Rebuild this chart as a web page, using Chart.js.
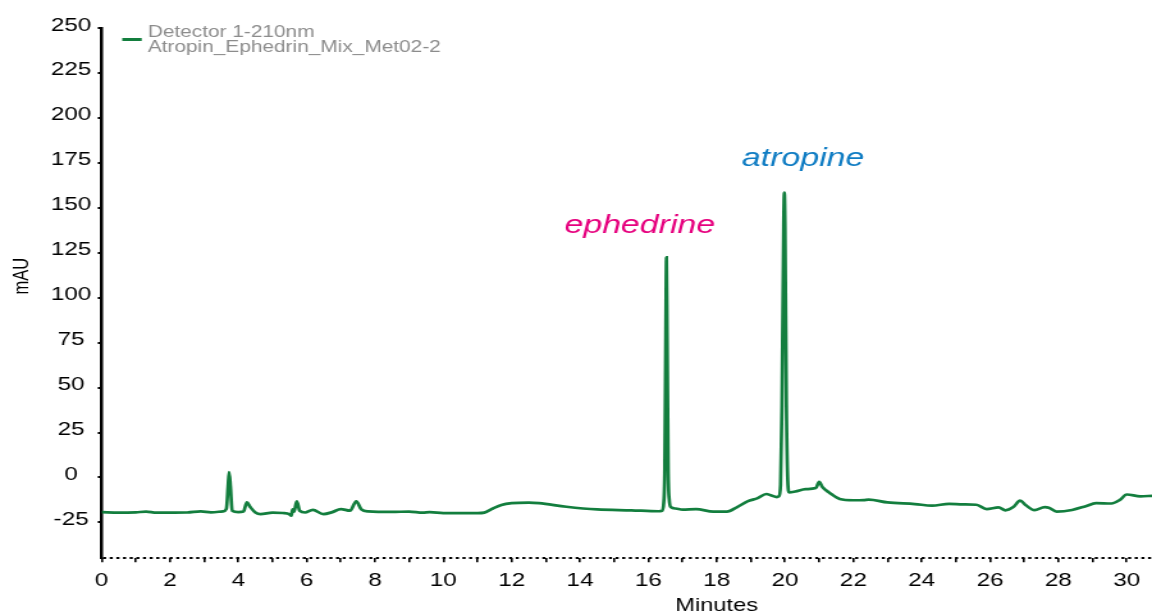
<!DOCTYPE html>
<html>
<head>
<meta charset="utf-8">
<title>Atropin / Ephedrin chromatogram</title>
<script src="https://cdn.jsdelivr.net/npm/chart.js@4.4.1/dist/chart.umd.min.js"></script>
<style>
  html, body { margin: 0; padding: 0; background: #fff; overflow: hidden; }
</style>
</head>
<body>
<!-- the original export is stretched sideways, so the canvas is drawn narrow and shown wide -->
<canvas id="chromatogram" width="900" height="613" style="display:block;width:1152px;height:613px"></canvas>
<script>
// retention time (min) and detector signal (mAU)
var minutes = [
  0, 0.5, 1.0, 1.3, 1.6, 2.5, 2.9, 3.2, 3.55, 3.65, 3.70, 3.73, 3.77, 3.82,
  4.0, 4.15, 4.25, 4.35, 4.5, 4.65, 5.0, 5.3, 5.5, 5.55, 5.59, 5.63, 5.71, 5.80, 5.95,
  6.18, 6.49, 6.75, 7.0, 7.27, 7.45, 7.6, 7.8, 8.5, 9.0, 9.4, 9.6, 10.0,
  11.0, 11.2, 11.45, 11.7, 12.0, 12.5, 12.8, 13.6, 14.5, 15.5, 16.3,
  16.40, 16.45, 16.48, 16.51, 16.53, 16.55, 16.58, 16.61, 16.66,
  16.8, 17.0, 17.4, 17.9, 18.3, 18.6, 18.9, 19.2, 19.45, 19.6, 19.76,
  19.82, 19.87, 19.91, 19.96, 19.98, 20.00, 20.04, 20.08, 20.12,
  20.3, 20.6, 20.9, 21.0, 21.1, 21.3, 21.6, 22.0, 22.3, 22.45, 23.0, 23.8,
  24.3, 24.8, 25.2, 25.6, 25.9, 26.25, 26.45, 26.68, 26.88, 27.05, 27.3,
  27.6, 27.72, 27.95, 28.4, 28.8, 29.1, 29.55, 29.8, 30.0, 30.4, 30.74
];
var mAU = [
  -19.3, -19.6, -19.4, -19.0, -19.6, -19.5, -18.9, -19.4, -18.9, -17.5, -5, 3.0, -5, -18.5,
  -19.3, -19.0, -13.9, -16.5, -19.5, -20.4, -19.6, -19.8, -20.5, -21.3, -17.7, -19.0, -13.3, -18.6, -19.5,
  -18.0, -20.4, -19.3, -17.6, -18.5, -13.3, -17.8, -18.9, -19.2, -19.0, -19.6, -19.3, -19.8,
  -19.9, -19.6, -17.3, -15.3, -14.3, -14.0, -14.3, -16.3, -17.8, -18.3, -18.8,
  -18.5, -14, 5, 80, 122.5, 80, 5, -12, -16.5,
  -17.3, -17.9, -17.6, -19.0, -19.0, -16.5, -13.3, -11.5, -9.2, -10.0, -10.9,
  -10.5, -4, 40, 140, 158.5, 140, 40, -2, -8.3,
  -7.8, -6.5, -5.9, -2.5, -5.5, -8.5, -12.0, -12.7, -12.6, -12.3, -13.9, -14.8,
  -15.7, -14.7, -15.0, -15.2, -17.6, -16.7, -18.3, -16.5, -12.9, -15.5, -18.2,
  -16.5, -16.8, -19.0, -18.1, -16.0, -14.3, -14.5, -12.5, -9.5, -10.5, -10.2
];

var xTicks = [0, 1, 2, 3, 4, 5, 6, 7, 8, 9, 10, 11, 12, 13, 14, 15, 16, 17, 18, 19, 20,
  21, 22, 23, 24, 25, 26, 27, 28, 29, 30];
var yTicks = [-25, 0, 25, 50, 75, 100, 125, 150, 175, 200, 225, 250];
var xMin = 0, xMax = 30.74;
var yMin = -45, yMax = 250;

var peakNames = ["ephedrine", "atropine"];
var legendLines = ["Detector 1-210nm", "Atropin_Ephedrin_Mix_Met02-2"];
var xTitle = "Minutes";
var yTitle = "mAU";

var traceColor = "#137e3e";
var fontFamily = "'Liberation Sans', Arial, Helvetica, sans-serif";

// where the peak names sit, in data units
var peakLabelAt = [
  { x: 15.75, y: 136.2, color: "#e6007e" },
  { x: 20.53, y: 173.6, color: "#0f7cc3" }
];

var chromText = {
  id: "chromText",
  afterDraw: function(chart) {
    var ctx = chart.ctx;
    var xs = chart.scales.x;
    var ys = chart.scales.y;
    ctx.save();

    // legend
    ctx.strokeStyle = traceColor;
    ctx.lineWidth = 3;
    ctx.beginPath();
    ctx.moveTo(95.5, 39.5);
    ctx.lineTo(110.7, 39.5);
    ctx.stroke();
    ctx.fillStyle = "#8c8c8c";
    ctx.font = "16.3px " + fontFamily;
    ctx.textAlign = "left";
    ctx.textBaseline = "alphabetic";
    ctx.fillText(legendLines[0], 115.4, 36.7);
    ctx.fillText(legendLines[1], 115.4, 51.5);

    // peak names
    ctx.font = "italic 26.5px " + fontFamily;
    ctx.textAlign = "center";
    for (var i = 0; i < peakNames.length; i++) {
      ctx.fillStyle = peakLabelAt[i].color;
      ctx.fillText(peakNames[i], xs.getPixelForValue(peakLabelAt[i].x), ys.getPixelForValue(peakLabelAt[i].y));
    }

    // axis titles
    ctx.fillStyle = "#000";
    ctx.font = "18.5px " + fontFamily;
    ctx.fillText(xTitle, xs.getPixelForValue(18), 611);
    ctx.font = "16.5px " + fontFamily;
    ctx.textBaseline = "middle";
    ctx.translate(17, ys.getPixelForValue(112));
    ctx.rotate(-Math.PI / 2);
    ctx.fillText(yTitle, 0, 0);
    ctx.restore();
  }
};

document.addEventListener("DOMContentLoaded", function() {
  var ctx = document.getElementById("chromatogram").getContext("2d");
  Chart.defaults.font.family = fontFamily;
  Chart.defaults.color = "#000";

  var points = [];
  for (var i = 0; i < minutes.length; i++) {
    points.push({ x: minutes[i], y: mAU[i] });
  }

  var data = {
    datasets: [
      {
        label: legendLines.join(" "),
        data: points,
        borderColor: traceColor,
        borderWidth: 2.7,
        pointRadius: 0,
        fill: false,
        cubicInterpolationMode: "monotone"
      }
    ]
  };

  var options = {
    responsive: false,
    animation: false,
    events: [],
    layout: { padding: { top: 28.3, left: 0, right: 0, bottom: 0 } },
    plugins: {
      legend: { display: false },
      tooltip: { enabled: false }
    },
    scales: {
      x: {
        type: "linear",
        min: xMin,
        max: xMax,
        afterBuildTicks: function(scale) {
          scale.ticks = xTicks.map(function(v) { return { value: v }; });
        },
        afterFit: function(scale) { scale.height = 54.7; },
        border: { display: false },
        grid: {
          drawOnChartArea: false,
          drawTicks: true,
          tickLength: 4,
          color: "#000",
          lineWidth: 1.6
        },
        ticks: {
          autoSkip: false,
          maxRotation: 0,
          padding: 7,
          font: { size: 19 },
          color: "#000",
          callback: function(value) { return value % 2 === 0 ? String(value) : ""; }
        }
      },
      y: {
        min: yMin,
        max: yMax,
        afterBuildTicks: function(scale) {
          scale.ticks = [{ value: yMin }].concat(yTicks.map(function(v) { return { value: v }; }));
        },
        afterFit: function(scale) { scale.width = 79.4; },
        // dash goes to the grid lines; only the bottom one is shown, as the dotted time axis
        border: { display: true, color: "#000", width: 2.5, dash: [2.4, 2.8] },
        grid: {
          drawOnChartArea: true,
          drawTicks: true,
          tickLength: 3,
          lineWidth: 2,
          tickWidth: 2,
          color: function(c) { return c.tick && c.tick.value === yMin ? "#000" : "rgba(0,0,0,0)"; },
          tickColor: function(c) { return c.tick && c.tick.value === yMin ? "rgba(0,0,0,0)" : "#000"; }
        },
        ticks: {
          crossAlign: "center",
          padding: 5,
          labelOffset: -3,
          font: { size: 19 },
          color: "#000",
          callback: function(value) { return yTicks.indexOf(value) >= 0 ? String(value) : ""; }
        }
      }
    }
  };

  var chromChart = new Chart(ctx, {
    type: "line",
    data: data,
    options: options,
    plugins: [chromText]
  });
});
</script>
</body>
</html>
